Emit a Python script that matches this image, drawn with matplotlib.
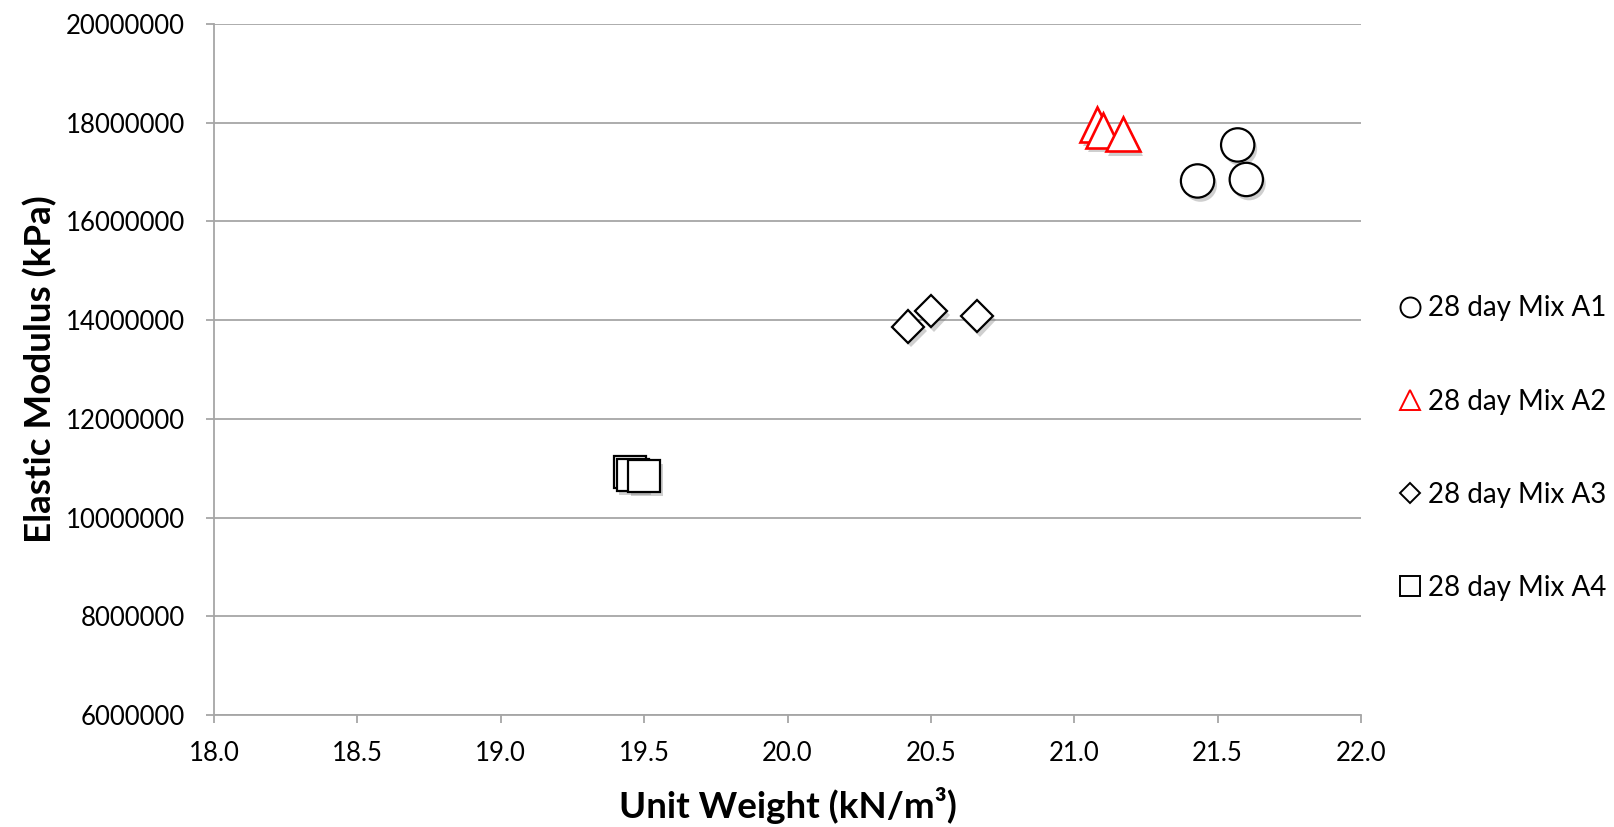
import matplotlib
matplotlib.use('Agg')
import matplotlib.pyplot as plt
import matplotlib.patheffects as pe

# data
mix_a1_x = [21.57, 21.43, 21.60]
mix_a1_y = [17550000, 16820000, 16850000]
mix_a2_x = [21.08, 21.10, 21.17]
mix_a2_y = [17960000, 17840000, 17770000]
mix_a3_x = [20.42, 20.50, 20.66]
mix_a3_y = [13870000, 14180000, 14080000]
mix_a4_x = [19.45, 19.46, 19.50]
mix_a4_y = [10920000, 10860000, 10840000]

labels = ['28 day Mix A1', '28 day Mix A2', '28 day Mix A3', '28 day Mix A4']
x_ticks = [18.0, 18.5, 19.0, 19.5, 20.0, 20.5, 21.0, 21.5, 22.0]
y_ticks = [6000000, 8000000, 10000000, 12000000, 14000000, 16000000, 18000000, 20000000]

plt.rcParams['font.family'] = ['Lato', 'DejaVu Sans']

fig = plt.figure(figsize=(16.14, 8.27), dpi=100)
ax = fig.add_axes([214 / 1614, 112 / 827, 1147 / 1614, 691 / 827])

grid_col = '#a6a6a6'
shadow = [pe.SimplePatchShadow(offset=(2, -3), shadow_rgbFace='#777777', alpha=0.35), pe.Normal()]

series = [
    (mix_a1_x, mix_a1_y, 'o', 'black', 24, 1.6),
    (mix_a2_x, mix_a2_y, '^', 'red', 25, 1.9),
    (mix_a3_x, mix_a3_y, 'D', 'black', 16.5, 1.6),
    (mix_a4_x, mix_a4_y, 's', 'black', 23, 1.6),
]
handles = []
for (xs, ys, m, col, ms, lw), lab in zip(series, labels):
    line, = ax.plot(xs, ys, linestyle='none', marker=m, markersize=ms,
                    markerfacecolor='white', markeredgecolor=col,
                    markeredgewidth=lw, label=lab, zorder=3)
    line.set_path_effects(shadow)
    handles.append(line)

ax.set_xlim(18.0, 22.0)
ax.set_ylim(6000000, 20000000)
ax.set_xticks(x_ticks)
ax.set_xticklabels(['%.1f' % v for v in x_ticks])
ax.set_yticks(y_ticks)
ax.set_yticklabels([str(v) for v in y_ticks])

ax.grid(axis='y', color=grid_col, linewidth=1.3)
ax.set_axisbelow(True)
for s in ['top', 'right']:
    ax.spines[s].set_visible(False)
for s in ['left', 'bottom']:
    ax.spines[s].set_color(grid_col)
    ax.spines[s].set_linewidth(1.3)
ax.tick_params(axis='both', color=grid_col, width=1.3, length=6, labelsize=18.5)
ax.tick_params(axis='y', pad=15)
ax.tick_params(axis='x', pad=13)

ax.set_xlabel('Unit Weight (kN/m³)', fontsize=26.5, fontweight='bold', labelpad=15)
ax.set_ylabel('Elastic Modulus (kPa)', fontsize=26.5, fontweight='bold', labelpad=6)

leg = ax.legend(handles=handles, loc='center left', bbox_to_anchor=(1.023, 0.386),
                frameon=False, fontsize=20, markerscale=0.6, handlelength=0.8,
                handletextpad=0.25, labelspacing=2.42, borderaxespad=0)
for h in leg.legend_handles:
    h.set_path_effects([])
    h.set_markeredgewidth(1.4)

fig.savefig('out.png', dpi=100)
